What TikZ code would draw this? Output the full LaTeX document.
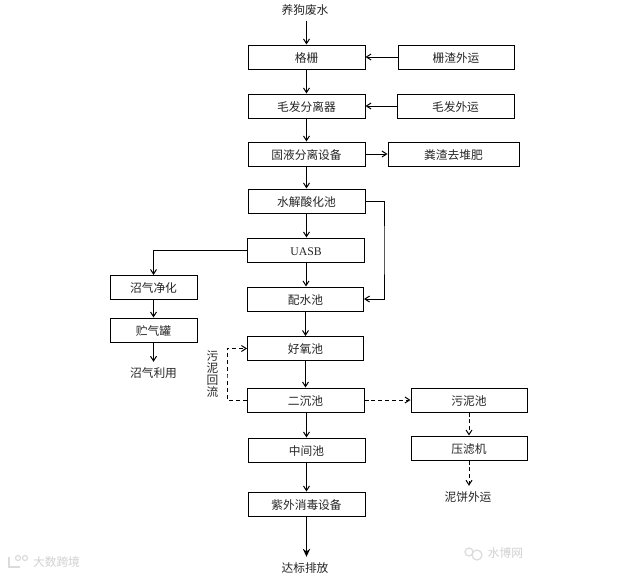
\documentclass[tikz,border=0pt]{standalone}
\usepackage{fontspec}
\usepackage{tikz}
\usetikzlibrary{arrows.meta}
\setmainfont{Noto Sans CJK SC}
\newfontfamily\latinfont{Liberation Serif}
\tikzset{
  x=0.75pt,y=-0.75pt,
  box/.style={draw=black,line width=0.75pt,inner sep=0pt,minimum height=18pt,text height=8.4pt,text depth=0.5pt,font=\fontsize{8.8}{10}\selectfont,text=black!85},
  wd/.style={minimum width=#1*0.75pt},
  plain/.style={inner sep=1pt,text height=8.4pt,text depth=0.5pt,font=\fontsize{8.8}{10}\selectfont,text=black!85},
  flow/.style={draw=black,line width=0.75pt,-{Straight Barb[length=3.5pt,width=4.5pt]}},
  dflow/.style={flow,dash pattern=on 3pt off 2.2pt},
  bigflow/.style={draw=black,line width=0.9pt,-{Stealth[length=6pt,width=5.5pt]}},
  wmark/.style={inner sep=0pt,font=\fontsize{8.8}{10}\selectfont,text=black!18},
  markline/.style={draw=black!14,line width=0.9pt}
}
\begin{document}
\begin{tikzpicture}
\useasboundingbox (0,0) rectangle (617,575);
\fill[white] (0,0) rectangle (617,575);
% main column
\node[plain] (src) at (305,9) {养狗废水};
\node[box,wd=117] (geshan) at (306.5,57) {格栅};
\node[box,wd=117] (maofa) at (306.5,106) {毛发分离器};
\node[box,wd=117] (guye) at (306.5,154) {固液分离设备};
\node[box,wd=117] (shuijie) at (306.5,201) {水解酸化池};
\node[box,wd=117] (uasb) at (306,250) {\latinfont UASB};
\node[box,wd=116] (peishui) at (305.5,299) {配水池};
\node[box,wd=116] (haoyang) at (305.5,348.5) {好氧池};
\node[box,wd=117] (erchen) at (305.5,400) {二沉池};
\node[box,wd=117] (zhongjian) at (306.5,450) {中间池};
\node[box,wd=117] (ziwai) at (306.5,504) {紫外消毒设备};
\node[plain] (out) at (305,567) {达标排放};
% right column
\node[box,wd=116] (zhazha) at (456,57) {栅渣外运};
\node[box,wd=117] (maoout) at (455.5,106) {毛发外运};
\node[box,wd=131] (fenzha) at (453.5,154) {粪渣去堆肥};
\node[box,wd=116] (wuni) at (469,400) {污泥池};
\node[box,wd=116] (yalv) at (469,448) {压滤机};
\node[plain] (nibing) at (468,496) {泥饼外运};
% left column
\node[box,wd=87] (jinghua) at (153.5,287.5) {沼气净化};
\node[box,wd=87] (zhuqi) at (153.5,330) {贮气罐};
\node[plain] (liyong) at (153.5,372) {沼气利用};
\node[inner sep=1pt,text=black!85,align=center,font=\fontsize{8.8}{8.8}\selectfont] (huiliu) at (212.5,374) {污\\泥\\回\\流};
% bends
\coordinate (rbend) at (384,250);
\coordinate (dbend) at (227,375);
% connectors
\draw[flow,shorten <=3pt] (geshan.north |- src.south) -- (geshan.north);
\draw[flow] (geshan) -- (maofa);
\draw[flow] (maofa) -- (guye);
\draw[flow] (guye) -- (shuijie);
\draw[flow] (shuijie.south) -- (shuijie.south |- uasb.north);
\draw[flow] (uasb.south) -- (uasb.south |- peishui.north);
\draw[flow] (peishui) -- (haoyang);
\draw[flow] (haoyang) -- (erchen);
\draw[flow] (zhongjian.north |- erchen.south) -- (zhongjian.north);
\draw[flow] (zhongjian) -- (ziwai);
\draw[bigflow,shorten >=2pt] (ziwai.south) -- (ziwai.south |- out.north);
\draw[flow] (zhazha) -- (geshan);
\draw[flow] (maoout) -- (maofa);
\draw[flow] (guye) -- (fenzha);
\draw[flow] (shuijie.east) -| (rbend) |- (peishui.east);
\draw[flow] (uasb.west) -| (jinghua.north);
\draw[flow] (jinghua) -- (zhuqi);
\draw[flow,shorten >=2pt] (zhuqi) -- (liyong);
\draw[dflow] (erchen.west) -| (dbend) |- (haoyang.west);
\draw[dflow] (erchen) -- (wuni);
\draw[dflow] (wuni) -- (yalv);
\draw[dflow,shorten >=2pt] (yalv.south) -- (yalv.south |- nibing.north);
% watermarks
\node[wmark] (wmleft) at (56.5,562) {大数跨境};
\node[wmark] (wmright) at (505.5,553) {水博网};
\draw[markline] (9,557) -- (9,567) -- (20,567);
\draw[markline] (18,558) circle[radius=2.5];
\draw[markline] (25,558) circle[radius=2.5];
\draw[markline] (469,552) circle[radius=4];
\draw[markline] (477,555) circle[radius=5];
\end{tikzpicture}
\end{document}
